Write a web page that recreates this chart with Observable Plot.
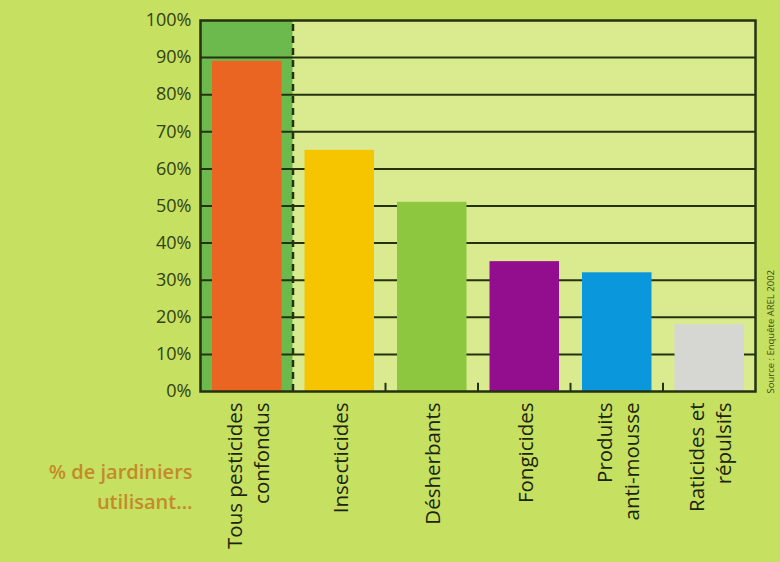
<!DOCTYPE html>
<html>
<head>
<meta charset="utf-8">
<script src="https://cdn.jsdelivr.net/npm/d3@7"></script>
<script src="https://cdn.jsdelivr.net/npm/@observablehq/plot@0.6"></script>
<style>
  html, body { margin: 0; padding: 0; background: #c6e062; overflow: hidden; }
  #chart svg { display: block; }
</style>
</head>
<body>
<div id="chart"></div>
<script>
const categories = [
  "Tous pesticides\nconfondus",
  "Insecticides",
  "Désherbants",
  "Fongicides",
  "Produits\nanti-mousse",
  "Raticides et\nrépulsifs"
];
const values = [89, 65, 51, 35, 32, 18];
const colors = ["#ea6521", "#f6c500", "#8dc63f", "#930e8e", "#0a97db", "#d6d6d3"];
const yTicks = [0, 10, 20, 30, 40, 50, 60, 70, 80, 90, 100];
const gridLevels = [10, 20, 30, 40, 50, 60, 70, 80, 90];
const note = "% de jardiniers\nutilisant…";
const source = "Source : Enquête AREL 2002";

const data = categories.map((c, i) => ({cat: c, i, value: values[i], color: colors[i]}));
const ink = "#243210";

const chart = Plot.plot({
  width: 780,
  height: 562,
  marginTop: 20,
  marginLeft: 200,
  marginRight: 25,
  marginBottom: 171,
  style: {background: "transparent", fontFamily: "'Open Sans', sans-serif", overflow: "visible"},
  x: {type: "linear", domain: [0, categories.length], axis: null},
  y: {domain: [0, 100], axis: null},
  marks: [
    Plot.frame({fill: "#d9eb8e"}),
    Plot.rectY([data[0]], {x1: d => d.i, x2: d => d.i + 1, y1: 0, y2: 100, fill: "#6cba4e"}),
    Plot.ruleY(gridLevels, {stroke: ink, strokeWidth: 2}),
    Plot.rectY(data, {x1: d => d.i, x2: d => d.i + 1, y1: 0, y2: "value", fill: "color", insetLeft: 12, insetRight: 11}),
    Plot.ruleX([1], {y1: 0, y2: 100, stroke: ink, strokeWidth: 2.5, strokeDasharray: "7,5"}),
    Plot.ruleX(d3.range(2, categories.length), {y1: 0, y2: 2.2, stroke: ink, strokeWidth: 2}),
    Plot.frame({stroke: ink, strokeWidth: 2.5}),
    Plot.axisY(yTicks, {label: null, tickSize: 0, tickPadding: 9, tickFormat: d => d + "%", fontSize: 18, fill: "#34420f"}),
    Plot.axisX(data.map(d => d.i + 0.5), {
      label: null, tickSize: 0, tickPadding: 11, tickRotate: -90,
      tickFormat: v => categories[Math.floor(v)],
      fontSize: 20.5, fill: "#1b240c", lineHeight: 1.3
    }),
    Plot.text([note], {frameAnchor: "bottom-left", text: d => d, dx: -8, dy: 93, textAnchor: "end", lineAnchor: "middle",
      fontSize: 20, fontWeight: 600, fill: "#c48a2a", lineHeight: 1.5}),
    Plot.text([source], {frameAnchor: "bottom-right", text: d => d, dx: 15, dy: 2, rotate: -90, textAnchor: "start",
      lineAnchor: "middle", fontSize: 9.5, fill: "#3f4e14"})
  ]
});
document.getElementById("chart").appendChild(chart);
</script>
</body>
</html>
